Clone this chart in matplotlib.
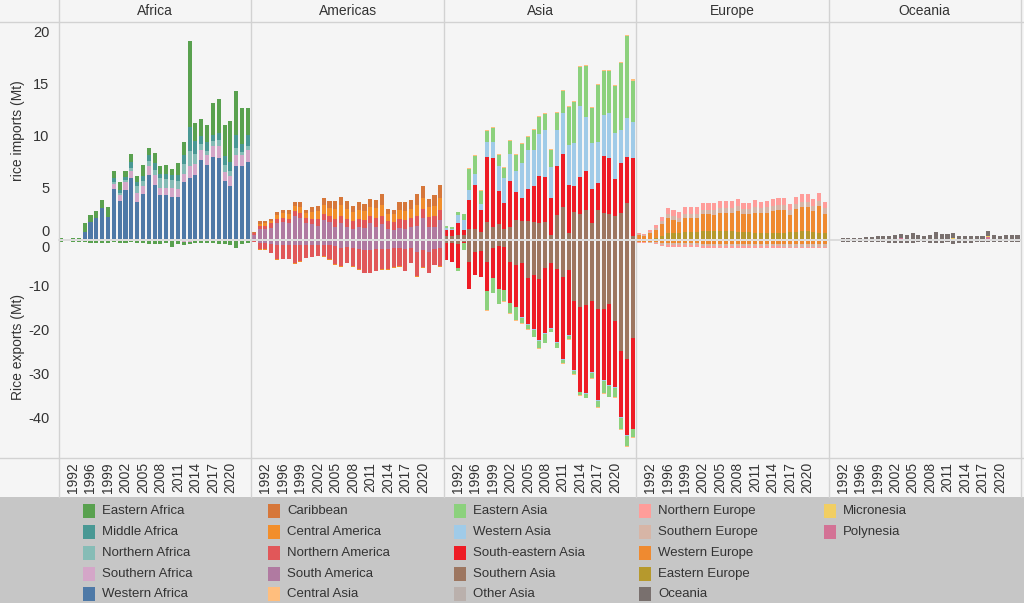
import matplotlib
matplotlib.use('Agg')
import matplotlib.pyplot as plt
from matplotlib.lines import Line2D
from matplotlib.patches import Rectangle
import numpy as np

plt.rcParams['font.family'] = ['Liberation Sans Narrow', 'Liberation Sans', 'DejaVu Sans']
plt.rcParams['axes.unicode_minus'] = False

# ---------------- data ----------------
years = [1990, 1991, 1992] + list(range(1994, 2024))
tick_years = [1992, 1996, 1999, 2002, 2005, 2008, 2011, 2014, 2017, 2020]
continents = ['Africa', 'Americas', 'Asia', 'Europe', 'Oceania']
N = len(years)
Z = [0.0] * N

# imports (Mt)
imp_eastern_africa = [0.1, 0, 0.1, 0.1, 0.8, 0.65, 0.7, 0.8, 1.0, 0.7, 0.8, 0.6, 0.8, 0.6, 1.0, 0.7, 1.0, 0.7, 0.85, 0.6, 1.1, 1.3, 8.3, 1.7, 1.7, 1.6, 3.1, 3.3, 3.0, 4.0, 4.3, 3.4, 2.6]
imp_middle_africa = [0, 0, 0, 0, 0, 0, 0, 0, 0, 0.4, 0.3, 0.3, 0.5, 0.4, 0.5, 0.6, 0.6, 0.4, 0.5, 0.5, 0.6, 0.9, 2.3, 1.3, 0.7, 0.9, 0.5, 0.6, 0.9, 0.8, 1.2, 0.8, 1.0]
imp_northern_africa = [0, 0, 0, 0, 0, 0, 0, 0, 0, 0.2, 0.2, 0.2, 0.3, 0.7, 0.5, 0.5, 0.5, 1.0, 0.8, 0.8, 0.8, 0.9, 1.5, 1.0, 0.6, 0.4, 0.5, 0.6, 0.6, 0.5, 0.7, 0.3, 0.4]
imp_southern_africa = [0, 0, 0, 0, 0, 0, 0, 0, 0, 0.5, 0.5, 0.8, 0.7, 0.8, 0.75, 0.8, 1.0, 0.7, 0.75, 0.8, 0.7, 0.8, 1.1, 1.0, 1.0, 1.0, 1.1, 1.2, 0.9, 1.0, 1.1, 1.1, 1.2]
imp_western_africa = [0, 0, 0, 0, 0.7, 1.65, 2.0, 3.0, 2.1, 4.8, 3.7, 4.7, 5.9, 3.6, 4.35, 6.2, 5.2, 4.2, 4.2, 4.1, 4.1, 5.5, 5.9, 6.2, 7.6, 7.1, 7.9, 7.8, 5.6, 5.1, 7.0, 7.0, 7.4]

imp_caribbean = [0.1, 0.3, 0.2, 0.2, 0.3, 0.3, 0.4, 0.4, 0.5, 0.3, 0.5, 0.5, 0.7, 0.7, 0.8, 0.8, 0.8, 0.6, 0.75, 0.7, 0.8, 0.8, 1.05, 0.5, 0.4, 0.75, 0.85, 0.9, 1.05, 1.1, 0.8, 1.0, 1.2]
imp_central_america = [0, 0.1, 0.2, 0.2, 0.4, 0.5, 0.5, 0.5, 0.6, 0.5, 0.7, 0.8, 0.9, 0.8, 1.0, 1.1, 1.0, 0.9, 0.9, 0.9, 0.9, 1.0, 1.1, 0.7, 0.8, 0.9, 0.9, 0.9, 1.1, 1.1, 1.0, 1.0, 1.2]
imp_northern_america = [0.2, 0.3, 0.3, 0.4, 0.4, 0.4, 0.4, 0.5, 0.5, 0.5, 0.5, 0.6, 0.6, 0.6, 0.7, 0.7, 0.7, 0.7, 0.7, 0.7, 0.7, 0.8, 0.8, 0.7, 0.7, 0.8, 0.8, 0.8, 0.9, 0.9, 0.9, 1.0, 1.0]
imp_south_america = [0.4, 1.0, 1.0, 1.1, 1.5, 1.6, 1.5, 2.2, 2.0, 1.5, 1.4, 1.3, 1.8, 1.6, 1.2, 1.5, 1.2, 1.0, 1.2, 1.1, 1.5, 1.2, 1.4, 1.0, 0.9, 1.1, 1.0, 1.2, 1.3, 2.0, 1.2, 1.2, 1.8]

imp_central_asia = [0, 0, 0, 0, 0.1, 0.1, 0.1, 0.1, 0.1, 0.1, 0.1, 0.1, 0.1, 0.1, 0.1, 0.1, 0.1, 0.1, 0.1, 0.1, 0.1, 0.1, 0.1, 0.1, 0.1, 0.1, 0.1, 0.1, 0.1, 0.1, 0.1, 0.1, 0.1]
imp_eastern_asia = [0.2, 0.2, 0.3, 0.65, 2.1, 1.7, 1.2, 1.0, 1.3, 1.1, 0.95, 1.3, 1.5, 1.9, 1.2, 1.9, 1.7, 1.6, 1.65, 1.7, 2.1, 3.6, 3.9, 3.8, 4.9, 3.3, 5.5, 4.2, 4.0, 4.6, 6.5, 7.85, 4.0]
imp_western_asia = [0.2, 0.15, 0.75, 0.9, 0.9, 1.1, 0.6, 1.5, 1.6, 2.4, 2.4, 2.6, 2.1, 3.3, 3.8, 3.5, 4.0, 4.5, 2.95, 3.5, 4.0, 3.9, 4.2, 6.8, 5.2, 4.5, 4.0, 4.0, 4.4, 4.4, 3.2, 3.8, 3.5]
imp_southeastern_asia = [0.6, 0.55, 1.15, 0.5, 2.8, 4.2, 2.1, 6.25, 6.6, 3.2, 2.5, 4.4, 2.7, 2.3, 3.1, 3.45, 4.55, 4.35, 3.6, 4.65, 5.1, 4.6, 2.5, 3.6, 3.8, 3.3, 2.6, 5.5, 5.4, 3.6, 4.8, 4.4, 7.5]
imp_southern_asia = [0.3, 0.3, 0.4, 0.4, 1.0, 1.0, 0.7, 1.65, 1.2, 1.4, 1.0, 1.2, 1.8, 1.7, 1.7, 1.65, 1.55, 1.65, 0.4, 2.35, 3.1, 0.6, 2.6, 2.4, 2.8, 1.5, 2.8, 2.5, 2.4, 2.2, 2.5, 3.5, 0.3]
imp_other_asia = Z

imp_northern_europe = [0.1, 0.1, 0.15, 0.25, 0.4, 0.6, 0.6, 0.6, 0.7, 0.7, 0.7, 0.7, 0.7, 0.7, 0.7, 0.7, 0.7, 0.7, 0.6, 0.6, 0.7, 0.6, 0.6, 0.7, 0.7, 0.7, 0.6, 0.7, 0.7, 0.7, 0.7, 0.7, 0.6]
imp_southern_europe = [0.1, 0.1, 0.15, 0.2, 0.3, 0.4, 0.4, 0.4, 0.4, 0.4, 0.4, 0.4, 0.4, 0.45, 0.45, 0.5, 0.5, 0.5, 0.5, 0.5, 0.5, 0.5, 0.5, 0.5, 0.5, 0.5, 0.5, 0.5, 0.55, 0.55, 0.5, 0.5, 0.5]
imp_western_europe = [0.35, 0.3, 0.56, 0.78, 1.1, 1.4, 1.2, 1.0, 1.3, 1.3, 1.3, 1.6, 1.6, 1.55, 1.7, 1.7, 1.7, 2.0, 1.7, 1.7, 1.95, 1.9, 1.95, 2.1, 2.2, 2.2, 1.6, 2.2, 2.25, 2.25, 2.0, 2.6, 1.85]
imp_eastern_europe = [0, 0, 0, 0.1, 0.3, 0.6, 0.6, 0.6, 0.7, 0.7, 0.7, 0.8, 0.8, 0.8, 0.8, 0.8, 0.8, 0.7, 0.7, 0.7, 0.6, 0.6, 0.6, 0.6, 0.6, 0.6, 0.7, 0.7, 0.8, 0.8, 0.7, 0.6, 0.6]

imp_oceania = [0, 0.03, 0.06, 0.1, 0.1, 0.1, 0.16, 0.16, 0.25, 0.25, 0.25, 0.38, 0.38, 0.38, 0.54, 0.38, 0.32, 0.38, 0.63, 0.48, 0.48, 0.44, 0.25, 0.25, 0.25, 0.32, 0.32, 0.5, 0.38, 0.32, 0.38, 0.4, 0.4]
imp_micronesia = [0, 0, 0, 0, 0, 0, 0, 0, 0, 0, 0, 0, 0, 0, 0, 0, 0, 0, 0, 0, 0, 0.1, 0, 0, 0, 0, 0, 0.1, 0, 0, 0, 0, 0]
imp_polynesia = [0, 0, 0, 0, 0, 0, 0, 0, 0, 0, 0, 0, 0.1, 0, 0, 0, 0, 0, 0, 0, 0, 0, 0, 0, 0, 0, 0, 0.2, 0, 0, 0, 0, 0]

# exports (Mt, shown below zero)
exp_eastern_africa = [0.2, 0, 0.2, 0.2, 0.3, 0.4, 0.4, 0.4, 0.4, 0.3, 0.4, 0.4, 0.3, 0.4, 0.5, 0.6, 0.6, 0.6, 0.5, 1.4, 0.6, 0.5, 0.4, 0.4, 0.5, 0.5, 0.5, 0.6, 0.7, 0.9, 1.6, 0.6, 0.5]
exp_southern_africa = [0, 0, 0, 0, 0, 0, 0, 0, 0, 0, 0, 0, 0, 0, 0, 0, 0, 0, 0, 0, 0, 0.3, 0.3, 0, 0, 0, 0, 0, 0, 0, 0, 0, 0]

exp_central_america = [0, 0.1, 0.1, 0.1, 0.1, 0.1, 0.1, 0.1, 0.1, 0.1, 0.1, 0.1, 0.1, 0.1, 0.1, 0.1, 0.1, 0.1, 0.1, 0.1, 0.1, 0.1, 0.1, 0.1, 0.1, 0.1, 0.1, 0.1, 0.1, 0.1, 0.1, 0.1, 0.1]
exp_northern_america = [0.1, 1.4, 1.4, 2.1, 3.4, 3.3, 3.3, 4.2, 3.7, 3.0, 2.8, 2.5, 2.6, 3.2, 4.1, 4.2, 3.6, 4.2, 4.6, 5.2, 5.2, 4.9, 4.6, 4.6, 4.3, 4.1, 4.9, 3.5, 5.5, 4.0, 4.8, 3.6, 4.0]
exp_south_america = [0.1, 0.5, 0.5, 0.6, 0.8, 0.8, 0.8, 0.9, 0.9, 0.8, 0.8, 0.8, 0.9, 1.0, 1.2, 1.5, 1.4, 1.5, 1.8, 2.0, 2.0, 1.9, 1.8, 1.8, 1.7, 1.6, 1.9, 1.5, 2.5, 2.0, 2.4, 1.8, 1.7]

exp_central_asia = [0, 0, 0, 0, 0, 0, 0, 0.15, 0.15, 0.15, 0.15, 0.15, 0.15, 0.15, 0.15, 0.15, 0.15, 0.15, 0.15, 0.15, 0.15, 0.15, 0.15, 0.15, 0.15, 0.15, 0.15, 0.15, 0.15, 0.15, 0.15, 0.15, 0.15]
exp_eastern_asia = [0, 0, 0.5, 1.5, 0, 0, 0, 4.3, 3.2, 3.2, 2.5, 2.4, 2.9, 1.1, 1.0, 1.4, 1.7, 1.9, 0.6, 1.1, 0.7, 0.7, 0.7, 0.6, 0.8, 1.3, 1.5, 2.7, 2.5, 2.2, 2.7, 2.3, 1.7]
exp_western_asia = [0, 0, 0, 0, 0, 0, 0, 0, 0, 0, 0, 0, 0, 0.2, 0.2, 0.2, 0.2, 0.2, 0.2, 0.2, 0.2, 0.2, 0.2, 0.2, 0.2, 0.2, 0.2, 0.2, 0.2, 0.2, 0.2, 0.2, 0.2]
exp_southeastern_asia = [3.8, 4.2, 5.6, 0.2, 6.1, 5.3, 5.9, 6.7, 6.8, 9.9, 9.7, 9.3, 9.6, 12.2, 10.4, 12.4, 13.8, 14.8, 14.7, 16.5, 18.8, 14.8, 15.7, 19.3, 20.1, 16.1, 20.6, 16.1, 18.4, 15.0, 15.0, 17.4, 20.5]
exp_southern_asia = [0.5, 0.5, 0.6, 0.3, 4.7, 2.4, 2.2, 4.7, 1.7, 1.1, 1.4, 4.7, 5.5, 5.1, 8.5, 7.7, 8.7, 6.2, 5.1, 6.4, 8.1, 6.6, 13.6, 14.9, 14.5, 13.6, 15.5, 15.5, 14.3, 18.1, 24.9, 26.7, 22.1]

exp_northern_europe = [0.05, 0.05, 0.1, 0.1, 0.3, 0.4, 0.4, 0.4, 0.4, 0.4, 0.4, 0.4, 0.4, 0.4, 0.4, 0.4, 0.4, 0.4, 0.4, 0.4, 0.4, 0.4, 0.4, 0.4, 0.4, 0.4, 0.4, 0.4, 0.4, 0.4, 0.4, 0.4, 0.4]
exp_southern_europe = [0.1, 0.1, 0.15, 0.2, 0.4, 0.5, 0.5, 0.5, 0.5, 0.5, 0.5, 0.5, 0.6, 0.6, 0.6, 0.6, 0.6, 0.6, 0.6, 0.6, 0.6, 0.6, 0.6, 0.6, 0.6, 0.6, 0.6, 0.6, 0.6, 0.6, 0.6, 0.6, 0.6]
exp_western_europe = [0.2, 0.2, 0.25, 0.3, 0.4, 0.5, 0.5, 0.5, 0.5, 0.5, 0.5, 0.6, 0.6, 0.6, 0.6, 0.6, 0.6, 0.6, 0.6, 0.6, 0.6, 0.6, 0.6, 0.6, 0.6, 0.7, 0.7, 0.7, 0.7, 0.7, 0.7, 0.7, 0.7]

exp_oceania = [0, 0.1, 0.2, 0.2, 0.2, 0.2, 0.3, 0.3, 0.3, 0.3, 0.4, 0.4, 0.4, 0.4, 0.4, 0.3, 0.3, 0.4, 0.4, 0.4, 0.3, 0.6, 0.5, 0.5, 0.4, 0.3, 0.3, 0.3, 0.3, 0.3, 0.3, 0.3, 0.3]

groups = {
    'Africa': ['Eastern Africa', 'Middle Africa', 'Northern Africa', 'Southern Africa', 'Western Africa'],
    'Americas': ['Caribbean', 'Central America', 'Northern America', 'South America'],
    'Asia': ['Central Asia', 'Eastern Asia', 'Western Asia', 'South-eastern Asia', 'Southern Asia', 'Other Asia'],
    'Europe': ['Northern Europe', 'Southern Europe', 'Western Europe', 'Eastern Europe'],
    'Oceania': ['Oceania', 'Micronesia', 'Polynesia'],
}

imports = {
    'Eastern Africa': imp_eastern_africa, 'Middle Africa': imp_middle_africa,
    'Northern Africa': imp_northern_africa, 'Southern Africa': imp_southern_africa,
    'Western Africa': imp_western_africa,
    'Caribbean': imp_caribbean, 'Central America': imp_central_america,
    'Northern America': imp_northern_america, 'South America': imp_south_america,
    'Central Asia': imp_central_asia, 'Eastern Asia': imp_eastern_asia,
    'Western Asia': imp_western_asia, 'South-eastern Asia': imp_southeastern_asia,
    'Southern Asia': imp_southern_asia, 'Other Asia': imp_other_asia,
    'Northern Europe': imp_northern_europe, 'Southern Europe': imp_southern_europe,
    'Western Europe': imp_western_europe, 'Eastern Europe': imp_eastern_europe,
    'Oceania': imp_oceania, 'Micronesia': imp_micronesia, 'Polynesia': imp_polynesia,
}
exports = {
    'Eastern Africa': exp_eastern_africa, 'Southern Africa': exp_southern_africa,
    'Central America': exp_central_america, 'Northern America': exp_northern_america,
    'South America': exp_south_america,
    'Central Asia': exp_central_asia, 'Eastern Asia': exp_eastern_asia,
    'Western Asia': exp_western_asia, 'South-eastern Asia': exp_southeastern_asia,
    'Southern Asia': exp_southern_asia,
    'Northern Europe': exp_northern_europe, 'Southern Europe': exp_southern_europe,
    'Western Europe': exp_western_europe,
    'Oceania': exp_oceania,
}

colors = {
    'Eastern Africa': '#59a14f', 'Middle Africa': '#499894', 'Northern Africa': '#86bcb6',
    'Southern Africa': '#d4a6c8', 'Western Africa': '#4e79a7',
    'Caribbean': '#d6773a', 'Central America': '#f28e2b', 'Northern America': '#e15759',
    'South America': '#b07aa1', 'Central Asia': '#ffbe7d',
    'Eastern Asia': '#8cd17d', 'Western Asia': '#a0cbe8', 'South-eastern Asia': '#ee1c25',
    'Southern Asia': '#9d7660', 'Other Asia': '#bab0ac',
    'Northern Europe': '#ff9d9a', 'Southern Europe': '#d7b5a6', 'Western Europe': '#ef8a30',
    'Eastern Europe': '#b6992d', 'Oceania': '#79706e',
    'Micronesia': '#f1ce63', 'Polynesia': '#d37295',
}
legend_order = [r for c in continents for r in groups[c]]

# ---------------- layout ----------------
W, H = 1024, 603
fig = plt.figure(figsize=(W / 100, H / 100), dpi=100)
fig.patch.set_facecolor('#f5f5f5')

def fx(px):
    return px / W

def fy(py):
    return 1 - py / H

edges = [59, 251.4, 443.8, 636.2, 828.6, 1021]
y_head, y_mid, y_bot = 22, 240, 458
txt_col = '#333333'

x = np.arange(N)
tick_pos = [i for i, yv in enumerate(years) if yv in tick_years]
tick_lab = [str(years[i]) for i in tick_pos]

for j, cont in enumerate(continents):
    l, r = edges[j], edges[j + 1]
    ax_t = fig.add_axes([fx(l), fy(y_mid), fx(r - l), (y_mid - y_head) / H])
    ax_b = fig.add_axes([fx(l), fy(y_bot), fx(r - l), (y_bot - y_mid) / H])
    bt = np.zeros(N)
    bb = np.zeros(N)
    for reg in reversed(groups[cont]):
        v = np.array(imports.get(reg, Z), dtype=float)
        ax_t.bar(x, v, 0.7, bottom=bt, color=colors[reg], linewidth=0)
        bt += v
        e = np.array(exports.get(reg, Z), dtype=float)
        ax_b.bar(x, -e, 0.7, bottom=bb, color=colors[reg], linewidth=0)
        bb -= e
    for ax in (ax_t, ax_b):
        ax.set_facecolor('#f5f5f5')
        for s in ax.spines.values():
            s.set_visible(False)
        ax.tick_params(length=0, labelsize=10.5, colors=txt_col)
        ax.set_xlim(-0.4, 32.6)
    ax_t.set_ylim(-0.1, 20.95)
    ax_b.set_ylim(-49.3, 0.23)
    ax_t.set_xticks([])
    ax_b.set_xticks(tick_pos)
    ax_b.set_xticklabels(tick_lab, rotation=90, fontsize=10, color=txt_col)
    ax_b.tick_params(axis='x', pad=3)
    ax_t.set_yticks([0, 5, 10, 15, 20])
    ax_b.set_yticks([0, -10, -20, -30, -40])
    if j == 0:
        ax_t.tick_params(axis='y', pad=7)
        ax_b.tick_params(axis='y', pad=7)
        ax_t.get_yticklabels()[0].set_va('bottom')
        ax_b.get_yticklabels()[0].set_va('top')
    else:
        ax_t.set_yticklabels([])
        ax_b.set_yticklabels([])
    fig.text(fx((l + r) / 2), fy(11), cont, ha='center', va='center',
             fontsize=10, color=txt_col)

# y labels
fig.text(fx(18), fy(131), 'rice imports (Mt)', rotation=90, ha='center', va='center',
         fontsize=10, color=txt_col)
fig.text(fx(18), fy(347), 'Rice exports (Mt)', rotation=90, ha='center', va='center',
         fontsize=10, color=txt_col)

# frame lines
lc = '#d2d2d2'
for yy in (y_head, y_bot):
    fig.add_artist(Line2D([0, 1], [fy(yy), fy(yy)], color=lc, lw=1, transform=fig.transFigure))
for xx in edges:
    fig.add_artist(Line2D([fx(xx), fx(xx)], [fy(0), fy(497)], color=lc, lw=1,
                          transform=fig.transFigure))
fig.add_artist(Line2D([fx(edges[0]), fx(edges[-1])], [fy(y_mid), fy(y_mid)],
                      color='#d8d8d8', lw=1.2, transform=fig.transFigure, zorder=10))

# legend area
fig.add_artist(Rectangle((0, 0), 1, fy(497), transform=fig.transFigure,
                         facecolor='#c6c6c6', edgecolor='none', zorder=0))
col_x = [83, 268, 454, 639, 824]
row_y = [511, 532, 553, 574, 594]
for i, reg in enumerate(legend_order):
    cx = col_x[i // 5]
    cy = row_y[i % 5]
    fig.add_artist(Rectangle((fx(cx), fy(cy + 7)), 12 / W, 14 / H, transform=fig.transFigure,
                             facecolor=colors[reg], edgecolor='none', zorder=2))
    fig.text(fx(cx + 19), fy(cy), reg, ha='left', va='center', fontsize=9.5,
             color=txt_col, zorder=3)

fig.savefig('out.png', dpi=100, facecolor=fig.get_facecolor())
